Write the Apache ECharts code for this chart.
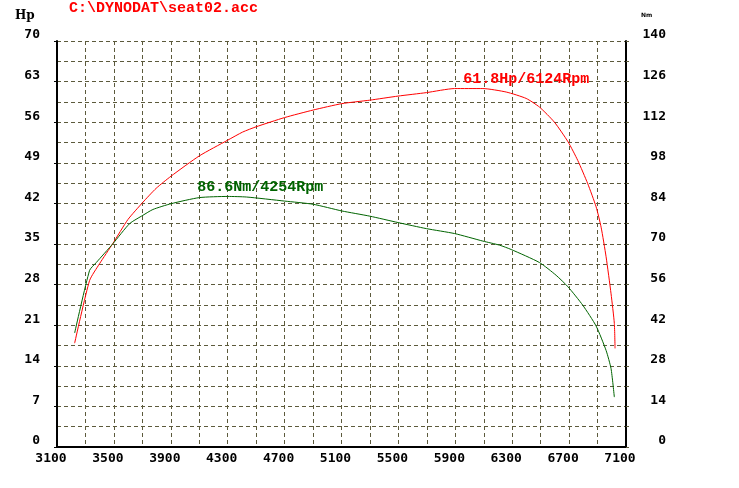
<!DOCTYPE html>
<html>
<head>
<meta charset="utf-8">
<script src="https://cdn.jsdelivr.net/npm/echarts@6/dist/echarts.min.js"></script>
<style>html,body{margin:0;padding:0;background:#fff}#c{width:739px;height:488px}</style>
</head>
<body>
<div id="c"></div>
<script>
// ---- data ----
const title = 'C:\\DYNODAT\\seat02.acc';
const rpmStart = 3100, rpmEnd = 7100;
const hpRpm = [3224,3329,3399,3493,3598,3704,3797,3902,4101,4300,4405,4499,4700,4901,5102,5299,5497,5697,5895,6094,6258,6398,6492,6597,6693,6761,6831,6890,6925,6960,6995,7018,7023];
const hpVals = [17.9,28.7,31.6,35.1,39.2,42.2,44.6,46.7,50.2,52.9,54.3,55.2,56.8,58.1,59.2,59.8,60.5,61.1,61.8,61.8,61.2,60.1,58.6,56.0,52.6,49.4,45.4,41.4,37.9,32.8,26.4,21.3,17.0];
const nmRpm = [3224,3329,3376,3493,3610,3704,3774,3902,4101,4300,4433,4700,4901,5102,5299,5497,5697,5895,6094,6211,6293,6492,6609,6693,6796,6890,6960,6995,7018];
const nmVals = [39.3,60.9,63.6,70.1,77.0,79.9,81.9,83.9,86.0,86.4,86.2,84.8,83.7,81.4,79.6,77.4,75.3,73.6,71.0,69.6,68.1,63.6,59.2,55.2,48.9,41.7,33.3,27.0,17.2];
const hpPeak = {rpm: 6124, value: 61.8, label: '61.8Hp/6124Rpm'};
const nmPeak = {rpm: 4254, value: 86.6, label: '86.6Nm/4254Rpm'};
const hpAxis = {min: 0, max: 70, step: 7};
const nmAxis = {min: 0, max: 140, step: 14};
const rpmStep = 400;

// ---- chart ----
const gridColor = '#5c5a3c';
const dash = {color: gridColor, type: [4, 3], width: 1};
const labFont = {fontFamily: 'DejaVu Sans Mono', fontWeight: 'bold', fontSize: 13, color: '#000'};
const chart = echarts.init(document.getElementById('c'), null, {renderer: 'canvas'});
const toXY = (rs, vs) => rs.map((r, i) => [r - rpmStart, vs[i]]);

chart.setOption({
  animation: false,
  backgroundColor: '#fff',
  grid: {left: 57, right: 113, top: 41, bottom: 41, containLabel: false},
  graphic: [
    {type: 'text', left: 69, top: 1, style: {text: title, fill: '#ff0000', font: 'bold 15px "Liberation Mono"'}},
    {type: 'text', left: 15, top: 10, style: {text: 'Hp', fill: '#000', font: 'bold 12px "DejaVu Serif"'}},
    {type: 'text', left: 641, top: 12, style: {text: 'Nm', fill: '#000', font: 'bold 6px "DejaVu Sans"'}}
  ],
  xAxis: {
    type: 'value', min: 0, max: rpmEnd - rpmStart, interval: rpmStep,
    axisLine: {show: true, onZero: false, lineStyle: {color: '#000', width: 2}},
    axisTick: {show: false},
    axisLabel: Object.assign({margin: 5, padding: [0, 12, 0, 0], formatter: v => String(v + rpmStart)}, labFont),
    splitLine: {show: true, lineStyle: dash},
    minorTick: {show: false, splitNumber: 2},
    minorSplitLine: {show: true, lineStyle: dash}
  },
  yAxis: [
    {
      type: 'value', min: hpAxis.min, max: hpAxis.max, interval: hpAxis.step, position: 'left',
      axisLine: {show: true, lineStyle: {color: '#000', width: 2}},
      axisTick: {show: true, length: 3, lineStyle: {color: '#000'}},
      axisLabel: Object.assign({margin: 17, verticalAlign: 'bottom', lineHeight: 12}, labFont),
      splitLine: {show: true, lineStyle: dash},
      minorTick: {show: false, splitNumber: 2},
      minorSplitLine: {show: true, lineStyle: dash}
    },
    {
      type: 'value', min: nmAxis.min, max: nmAxis.max, interval: nmAxis.step, position: 'right',
      axisLine: {show: true, lineStyle: {color: '#000', width: 2}},
      axisTick: {show: true, length: 3, lineStyle: {color: gridColor}},
      minorTick: {show: true, splitNumber: 2, length: 3, lineStyle: {color: gridColor}},
      axisLabel: Object.assign({margin: 40, align: 'right', verticalAlign: 'bottom', lineHeight: 12}, labFont),
      splitLine: {show: false}
    }
  ],
  series: [
    {
      type: 'line', name: 'Hp', yAxisIndex: 0, data: toXY(hpRpm, hpVals),
      showSymbol: false, smooth: 0.2, lineStyle: {color: '#ff0000', width: 1}, itemStyle: {color: '#ff0000'},
      markPoint: {
        symbol: 'circle', symbolSize: 1, itemStyle: {color: 'rgba(0,0,0,0)'},
        label: {show: true, position: 'inside', offset: [39, -9], formatter: hpPeak.label,
                color: '#ff0000', fontFamily: 'Liberation Mono', fontWeight: 'bold', fontSize: 15},
        data: [{coord: [hpPeak.rpm - rpmStart, hpPeak.value]}]
      }
    },
    {
      type: 'line', name: 'Nm', yAxisIndex: 1, data: toXY(nmRpm, nmVals),
      showSymbol: false, smooth: 0.2, lineStyle: {color: '#006400', width: 1}, itemStyle: {color: '#006400'},
      markPoint: {
        symbol: 'circle', symbolSize: 1, itemStyle: {color: 'rgba(0,0,0,0)'},
        label: {show: true, position: 'inside', offset: [39, -8.5], formatter: nmPeak.label,
                color: '#006400', fontFamily: 'Liberation Mono', fontWeight: 'bold', fontSize: 15},
        data: [{coord: [nmPeak.rpm - rpmStart, nmPeak.value]}]
      }
    }
  ]
});
</script>
</body>
</html>
